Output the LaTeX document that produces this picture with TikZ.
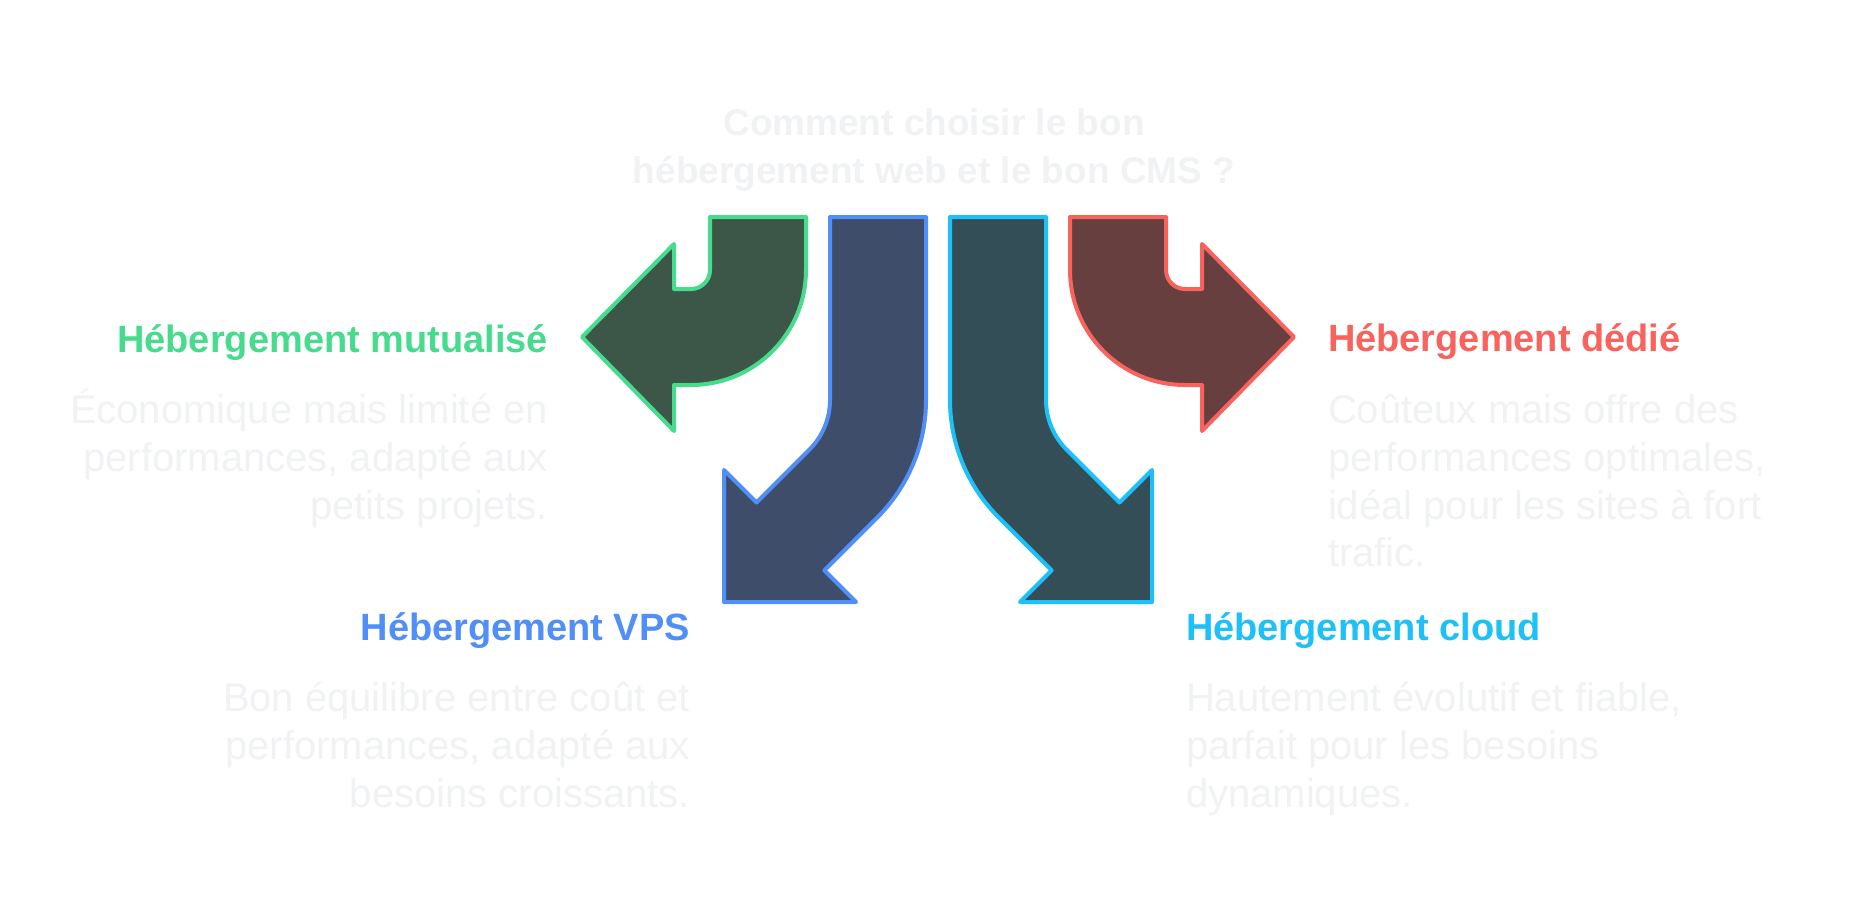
\documentclass[tikz,border=0pt]{standalone}
\usepackage{fontspec}
\setmainfont{Liberation Sans}
\usetikzlibrary{positioning}

\definecolor{paleGray}{HTML}{F1F2F3}
\definecolor{mutGreen}{HTML}{47DC8D}
\definecolor{mutFill}{HTML}{3C5748}
\definecolor{vpsBlue}{HTML}{4F8FF7}
\definecolor{vpsFill}{HTML}{3E4E6A}
\definecolor{cloudCyan}{HTML}{1DC1F7}
\definecolor{cloudFill}{HTML}{344E58}
\definecolor{dedRed}{HTML}{F8635E}
\definecolor{dedFill}{HTML}{683F3F}

\begin{document}
\begin{tikzpicture}[x=1pt,y=-1pt,line width=4pt,line join=round,
    question/.style={font=\fontsize{37}{48}\selectfont\bfseries,text=paleGray,align=center,inner sep=0},
    heading/.style={font=\fontsize{38}{44}\selectfont\bfseries,inner sep=0},
    desc/.style={font=\fontsize{40}{47.7}\selectfont,text=paleGray,inner sep=0}]
  \path[fill=white,use as bounding box] (0,0) rectangle (1852,916);

  \node (question) [question,anchor=base] at (934,183) {Comment choisir le bon\\hébergement web et le bon CMS ?};

  % the four arrows
  \filldraw[draw=mutGreen,fill=mutFill] (710,217) -- (806,217) -- (806,270)
    arc[start angle=0,end angle=90,radius=115] -- (674,385) -- (674,431) -- (582,337)
    -- (674,244) -- (674,289) -- (691,289) arc[start angle=90,end angle=0,radius=19] -- cycle;
  \filldraw[draw=vpsBlue,fill=vpsFill] (830,217) -- (926,217) -- (926,400)
    arc[start angle=0,end angle=45,radius=166] -- (824.4,570.4) -- (856,602) -- (724,602)
    -- (724,470) -- (756.5,502.5) -- (809.5,449.5) arc[start angle=45,end angle=0,radius=70] -- cycle;
  \filldraw[draw=cloudCyan,fill=cloudFill] (1046,217) -- (950,217) -- (950,400)
    arc[start angle=180,end angle=135,radius=166] -- (1051.6,570.4) -- (1020,602) -- (1152,602)
    -- (1152,470) -- (1119.5,502.5) -- (1066.5,449.5) arc[start angle=135,end angle=180,radius=70] -- cycle;
  \filldraw[draw=dedRed,fill=dedFill] (1166,217) -- (1070,217) -- (1070,270)
    arc[start angle=180,end angle=90,radius=115] -- (1202,385) -- (1202,431) -- (1294,337)
    -- (1202,244) -- (1202,289) -- (1185,289) arc[start angle=90,end angle=180,radius=19] -- cycle;

  % labels
  \node (mutHead) [heading,text=mutGreen,anchor=base east] at (550,352) {Hébergement mutualisé};
  \node (mutText) [desc,align=right,below=167pt of mutHead.base east,anchor=base east]
    {Économique mais limité en\\performances, adapté aux\\petits projets.};
  \node (dedHead) [heading,text=dedRed,anchor=base west] at (1326,351) {Hébergement dédié};
  \node (dedText) [desc,align=left,below=215.7pt of dedHead.base west,anchor=base west]
    {Coûteux mais offre des\\performances optimales,\\idéal pour les sites à fort\\trafic.};
  \node (vpsHead) [heading,text=vpsBlue,anchor=base east] at (692,640) {Hébergement VPS};
  \node (vpsText) [desc,align=right,below=167pt of vpsHead.base east,anchor=base east]
    {Bon équilibre entre coût et\\performances, adapté aux\\besoins croissants.};
  \node (cloudHead) [heading,text=cloudCyan,anchor=base west] at (1184,640) {Hébergement cloud};
  \node (cloudText) [desc,align=left,below=167pt of cloudHead.base west,anchor=base west]
    {Hautement évolutif et fiable,\\parfait pour les besoins\\dynamiques.};
\end{tikzpicture}
\end{document}
